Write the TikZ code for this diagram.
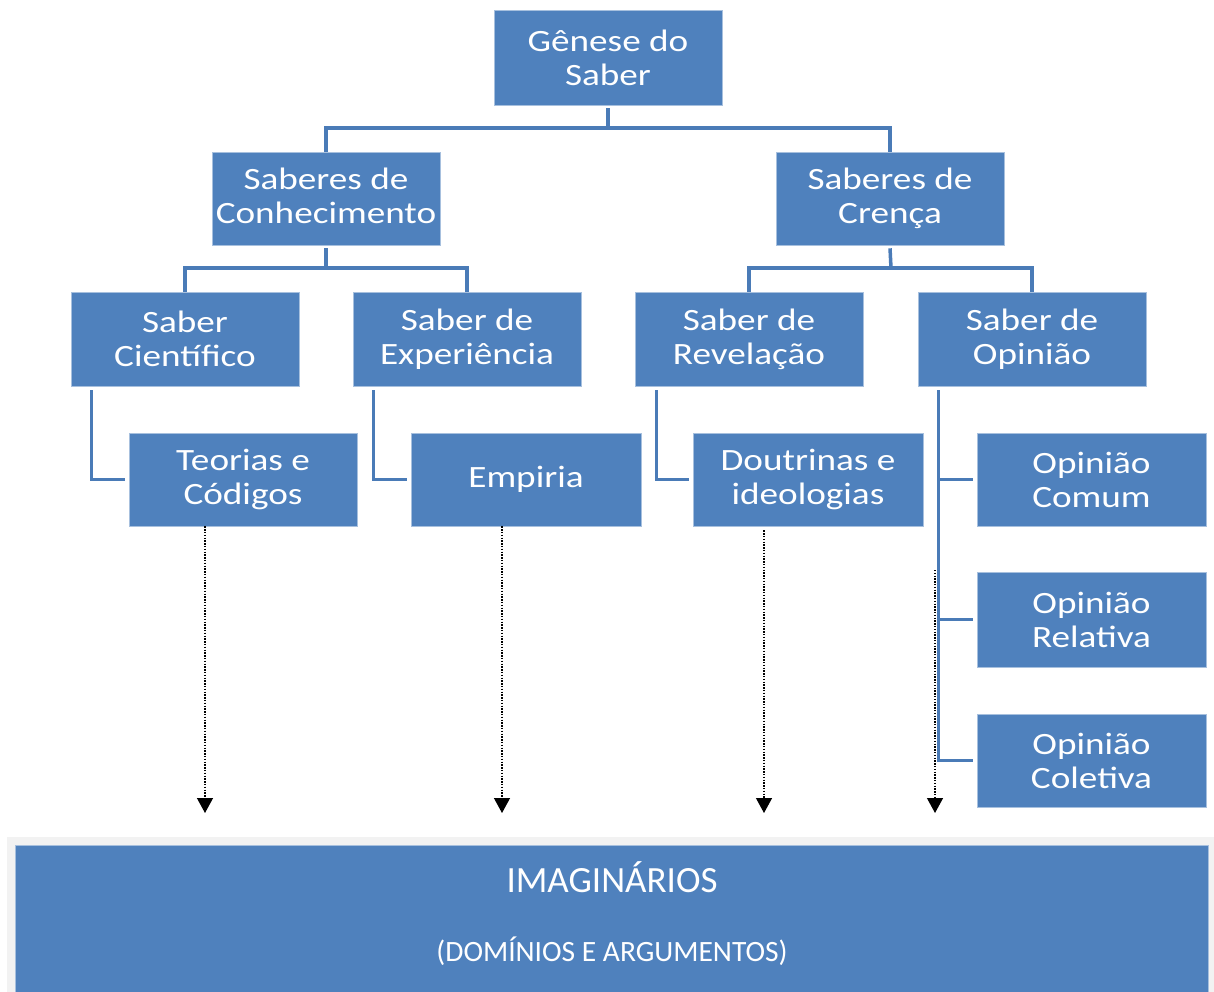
\documentclass[tikz,border=0pt]{standalone}
\usepackage{fontspec}
\setmainfont{Carlito}
\newfontfamily\boxfont[FakeStretch=1.2]{Carlito}
\usetikzlibrary{arrows.meta,calc}
\definecolor{boxblue}{HTML}{4F81BD}
\definecolor{boxedge}{HTML}{A7C0DE}
\definecolor{linec}{HTML}{4A7BB7}
\definecolor{bandgray}{HTML}{F2F2F2}
\begin{document}
\begin{tikzpicture}[x=1pt,y=-1pt,
  box/.style={rectangle, fill=boxblue, draw=boxedge, line width=0.6pt,
    minimum width=228pt, minimum height=94pt, inner sep=0pt, align=center,
    text=white, font=\boxfont\fontsize{31}{34}\selectfont},
  tree/.style={draw=linec, line width=3.5pt},
  dotarrow/.style={draw=black, line width=1.3pt, dash pattern=on 1.4pt off 1.4pt,
    -{Triangle[width=16pt,length=15pt]}}]
\useasboundingbox (0,0) rectangle (1214,992);
\fill[white] (0,0) rectangle (1214,992);

% nodes
\node[box, minimum height=95pt] (g) at (608,57.5) {Gênese do\\Saber};
\node[box, minimum height=93pt] (kc) at (326,198.5) {Saberes de\\Conhecimento\vphantom{p}};
\node[box, minimum height=93pt] (kb) at (890,198.5) {Saberes de\\Crença};
\node[box] (sc) at (185,339) {Saber\\Científico};
\node[box] (se) at (467,339) {Saber de\\Experiência};
\node[box] (sr) at (749,339) {Saber de\\Revelação};
\node[box] (so) at (1032,339) {Saber de\\Opinião};
\node[box, minimum height=93pt] (tc) at (243,479.5) {Teorias e\\Códigos};
\node[box, minimum height=93pt, minimum width=230pt] (em) at (526,479.5) {Empiria};
\node[box, minimum height=93pt, minimum width=230pt] (di) at (808,479.5) {Doutrinas e\\ideologias};
\node[box, minimum height=93pt, minimum width=229pt] (oc) at (1091.5,479.5) {Opinião\\Comum};
\node[box, minimum height=95pt, minimum width=229pt] (orl) at (1091.5,619.5) {Opinião\\Relativa};
\node[box, minimum height=93pt, minimum width=229pt] (ol) at (1091.5,760.5) {Opinião\\Coletiva};

% tree connectors
\coordinate (gm) at (608,128);
\draw[tree] ([yshift=-3pt]g.south) -- (gm);
\draw[tree] (kc.north) -- (kc.north |- gm) -- (kb.north |- gm) -- (kb.north);
\coordinate (km) at (326,268);
\draw[tree] ([yshift=-3pt]kc.south) -- (km);
\draw[tree] (sc.north) -- (sc.north |- km) -- (se.north |- km) -- (se.north);
\coordinate (bm) at (891,268);
\draw[tree] ([yshift=-3pt]kb.south) -- (bm);
\draw[tree] (sr.north) -- (sr.north |- bm) -- (so.north |- bm) -- (so.north);

\draw[tree] ([xshift=21pt,yshift=-4pt]sc.south west) |- ([xshift=-4pt]tc.west);
\draw[tree] ([xshift=21pt,yshift=-4pt]se.south west) |- ([xshift=-4pt]em.west);
\draw[tree] ([xshift=22pt,yshift=-4pt]sr.south west) |- ([xshift=-4pt]di.west);
\coordinate (sox) at ([xshift=21pt,yshift=-4pt]so.south west);
\draw[tree] (sox) |- ([xshift=-4pt]ol.west);
\draw[tree] (sox |- oc.west) -- ([xshift=-4pt]oc.west);
\draw[tree] (sox |- orl.west) -- ([xshift=-4pt]orl.west);

% bottom band
\fill[bandgray] (7,837) rectangle (1214,1000);
\node[fill=boxblue, draw=boxedge, line width=0.6pt, minimum width=1193pt,
  minimum height=160pt, inner sep=0pt, anchor=north west] (im) at (15,845) {};
\node[text=white, font=\fontsize{37}{40}\selectfont, anchor=base, inner sep=0pt] (imt) at (612,892) {IMAGINÁRIOS};
\node[text=white, font=\fontsize{29.5}{32}\selectfont, anchor=base, inner sep=0pt] (imd) at (612,961) {(DOMÍNIOS E ARGUMENTOS)};

% dotted arrows
\coordinate (a1) at (205,813);
\coordinate (a2) at (502,813);
\coordinate (a3) at (764,813);
\coordinate (a4s) at (935,570);
\coordinate (a4) at (935,813);
\draw[dotarrow] (a1 |- tc.south) -- (a1);
\draw[dotarrow] (a2 |- em.south) -- (a2);
\draw[dotarrow, shorten <=4pt] (a3 |- di.south) -- (a3);
\draw[dotarrow] (a4s) -- (a4);
\end{tikzpicture}
\end{document}
